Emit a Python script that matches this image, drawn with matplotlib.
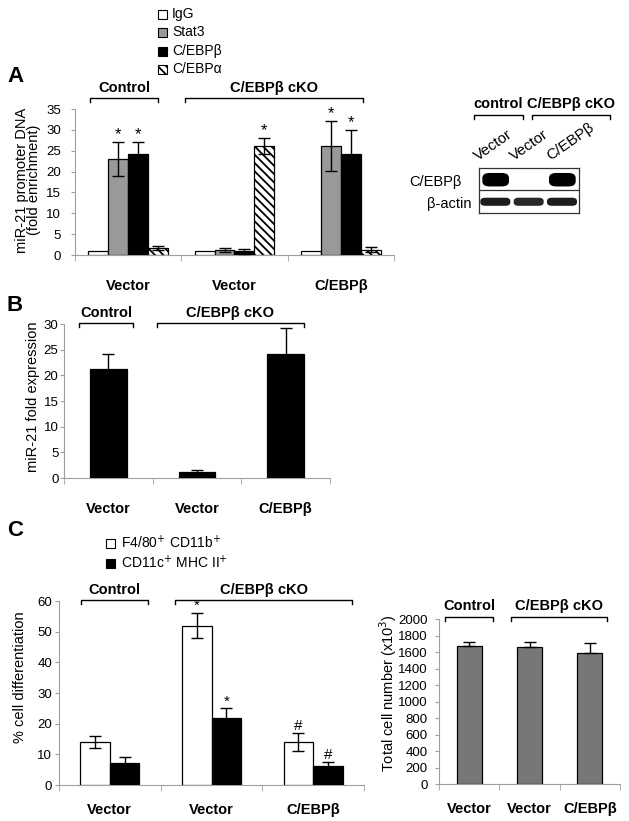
import numpy as np
import matplotlib.pyplot as plt
from matplotlib.lines import Line2D
from matplotlib.patches import FancyBboxPatch, Rectangle

plt.rcParams['font.family'] = ['Liberation Sans', 'DejaVu Sans']
plt.rcParams['hatch.linewidth'] = 1.3

# ---- data ----
groups = ['Vector', 'Vector', 'C/EBPβ']

# panel A (ChIP, fold enrichment)
igg = [1.0, 1.0, 1.0]
stat3 = [23.0, 1.2, 26.1]
stat3_err = [4.0, 0.5, 6.0]
cebpb = [24.2, 0.9, 24.2]
cebpb_err = [2.8, 0.6, 5.8]
cebpa = [1.6, 26.1, 1.2]
cebpa_err = [0.5, 2.0, 0.6]
stars_stat3 = [True, False, True]
stars_cebpb = [True, False, True]
stars_cebpa = [False, True, False]

# western blot band intensities (lanes: control Vector, cKO Vector, cKO C/EBPb)
blot_rows = ['C/EBPβ', 'β-actin']
blot_lanes = ['Vector', 'Vector', 'C/EBPβ']
band_cebpb = [1.0, 0.02, 1.0]
band_actin = [0.95, 0.9, 0.95]

# panel B (miR-21 expression)
mir21 = [21.3, 1.2, 24.2]
mir21_err = [2.8, 0.4, 5.0]

# panel C left (% differentiation)
f480 = [14.0, 52.0, 14.0]
f480_err = [2.0, 4.0, 3.0]
cd11c = [7.3, 22.0, 6.1]
cd11c_err = [1.8, 3.0, 1.3]
marks_f480 = ['', '*', '#']
marks_cd11c = ['', '*', '#']

# panel C right (total cells x10^3)
total_cells = [1676, 1661, 1584]
total_err = [49, 64, 125]

W, H = 629, 821
fig = plt.figure(figsize=(W / 100, H / 100), dpi=100)


def px_axes(x0, y0, x1, y1):
    return fig.add_axes([x0 / W, 1 - y1 / H, (x1 - x0) / W, (y1 - y0) / H])


def ftext(x, y, s, **kw):
    fig.text(x / W, 1 - y / H, s, **kw)


def bracket(x0, x1, y, label, ty, size=10.5):
    fig.add_artist(Line2D([x0 / W, x0 / W, x1 / W, x1 / W],
                          [1 - (y + 4) / H, 1 - y / H, 1 - y / H, 1 - (y + 4) / H],
                          transform=fig.transFigure, color='k', lw=1))
    ftext((x0 + x1) / 2, ty, label, ha='center', va='center',
          fontsize=size, fontweight='bold')


def style(ax, labels, pad=14, ypad=3):
    n = len(labels)
    for s in ['top', 'right']:
        ax.spines[s].set_visible(False)
    for s in ['left', 'bottom']:
        ax.spines[s].set_color('#a0a0a0')
        ax.spines[s].set_linewidth(0.8)
    ax.set_xlim(-0.5, n - 0.5)
    ax.set_xticks(range(n))
    ax.set_xticklabels(labels, fontweight='bold', fontsize=10.5)
    ax.set_xticks(np.arange(-0.5, n), minor=True)
    ax.tick_params(axis='x', which='major', length=0, pad=pad)
    ax.tick_params(axis='x', which='minor', length=4, color='#a0a0a0')
    ax.tick_params(axis='y', labelsize=9.5, length=3, color='#a0a0a0', pad=ypad)


def errs(ax, x, y, e):
    ax.errorbar(x, y, yerr=e, fmt='none', ecolor='k', elinewidth=1,
                capsize=4, capthick=1, zorder=5)


def mark(ax, x, y, s, size=12):
    ax.annotate(s, (x, y), xytext=(0, 0), textcoords='offset points',
                ha='center', va='bottom', fontsize=size, zorder=6)


# ---------------- panel A ----------------
axA = px_axes(75, 109, 394, 255)
x = np.arange(3)
w = 0.187
kw = dict(edgecolor='k', linewidth=0.9, zorder=3)
axA.bar(x - 1.5 * w, igg, w, color='white', **kw)
axA.bar(x - 0.5 * w, stat3, w, color='#999999', **kw)
axA.bar(x + 0.5 * w, cebpb, w, color='black', **kw)
axA.bar(x + 1.5 * w, cebpa, w, color='white', hatch='\\\\\\\\', **kw)
errs(axA, x - 0.5 * w, stat3, stat3_err)
errs(axA, x + 0.5 * w, cebpb, cebpb_err)
errs(axA, x + 1.5 * w, cebpa, cebpa_err)
for i in range(3):
    if stars_stat3[i]:
        mark(axA, x[i] - 0.5 * w, stat3[i] + stat3_err[i], '*')
    if stars_cebpb[i]:
        mark(axA, x[i] + 0.5 * w, cebpb[i] + cebpb_err[i], '*')
    if stars_cebpa[i]:
        mark(axA, x[i] + 1.5 * w, cebpa[i] + cebpa_err[i], '*')
axA.set_ylim(0, 35)
axA.set_yticks(range(0, 36, 5))
style(axA, groups, pad=17, ypad=7)

ftext(7, 76, 'A', fontsize=16, fontweight='bold', va='center')
ftext(28, 180, 'miR-21 promoter DNA\n(fold enrichment)', rotation=90,
      ha='center', va='center', fontsize=10.5, linespacing=0.9)
bracket(90, 158, 98, 'Control', 88)
bracket(185, 363, 98, 'C/EBPβ cKO', 88)

# legend A
leg_items = [('IgG', 'white', None), ('Stat3', '#999999', None),
             ('C/EBPβ', 'black', None), ('C/EBPα', 'white', '\\\\\\\\')]
for i, (lab, col, hat) in enumerate(leg_items):
    yy = 14 + i * 18.3
    fig.add_artist(Rectangle((158 / W, 1 - (yy + 5) / H), 9 / W, 9 / H,
                             transform=fig.transFigure, facecolor=col,
                             edgecolor='k', linewidth=0.8, hatch=hat))
    ftext(172, yy, lab, fontsize=10, va='center')

# ---------------- western blot ----------------
axW = px_axes(479, 168, 579, 213)
axW.set_xlim(0, 3)
axW.set_ylim(0, 2)
for s in axW.spines.values():
    s.set_linewidth(0.9)
    s.set_color('#333333')
axW.set_xticks([])
axW.set_yticks([])
axW.axhline(1, color='#333333', lw=0.9)
for i in range(3):
    if band_cebpb[i] > 0.05:
        axW.add_patch(FancyBboxPatch((i + 0.12, 1.2), 0.76, 0.56,
                                     boxstyle='round,pad=0.02,rounding_size=0.22',
                                     facecolor='black', edgecolor='none',
                                     alpha=band_cebpb[i]))
    axW.add_patch(FancyBboxPatch((i + 0.06, 0.34), 0.86, 0.32,
                                 boxstyle='round,pad=0.02,rounding_size=0.15',
                                 facecolor='#111111', edgecolor='none',
                                 alpha=band_actin[i]))
ftext(462, 182, blot_rows[0], ha='right', va='center', fontsize=10.5)
ftext(471, 204, blot_rows[1], ha='right', va='center', fontsize=10.5)
lane_x = [480, 516, 552]
for xx, lab in zip(lane_x, blot_lanes):
    ftext(xx, 163, lab, rotation=35, rotation_mode='anchor', ha='left',
          va='bottom', fontsize=11)
bracket(474, 523, 115, 'control', 104)
bracket(532, 610, 115, 'C/EBPβ cKO', 104)

# ---------------- panel B ----------------
axB = px_axes(64, 324, 330, 478)
axB.bar(x, mir21, 0.41, color='black', edgecolor='k', linewidth=0.9, zorder=3)
errs(axB, x, mir21, mir21_err)
axB.set_ylim(0, 30)
axB.set_yticks(range(0, 31, 5))
style(axB, groups, pad=17, ypad=1)
ftext(7, 305, 'B', fontsize=16, fontweight='bold', va='center')
ftext(33, 397, 'miR-21 fold expression', rotation=90, ha='center',
      va='center', fontsize=10.5)
bracket(79, 133, 323, 'Control', 313)
bracket(157, 304, 323, 'C/EBPβ cKO', 313)

# ---------------- panel C left ----------------
axC = px_axes(59, 601, 364, 785)
wc = 0.29
axC.bar(x - wc / 2, f480, wc, color='white', **kw)
axC.bar(x + wc / 2, cd11c, wc, color='black', **kw)
errs(axC, x - wc / 2, f480, f480_err)
errs(axC, x + wc / 2, cd11c, cd11c_err)
for i in range(3):
    if marks_f480[i]:
        mark(axC, x[i] - wc / 2, f480[i] + f480_err[i], marks_f480[i], 11)
    if marks_cd11c[i]:
        mark(axC, x[i] + wc / 2, cd11c[i] + cd11c_err[i], marks_cd11c[i], 11)
axC.set_ylim(0, 60)
axC.set_yticks(range(0, 61, 10))
style(axC, groups, pad=13, ypad=2)
ftext(7, 530, 'C', fontsize=16, fontweight='bold', va='center')
ftext(20, 677, '% cell differentiation', rotation=90, ha='center',
      va='center', fontsize=10.5)
bracket(81, 148, 600, 'Control', 590)
bracket(175, 352, 600, 'C/EBPβ cKO', 590)

# legend C
for i, (lab, col) in enumerate([('F4/80$^{+}$ CD11b$^{+}$', 'white'),
                                ('CD11c$^{+}$ MHC II$^{+}$', 'black')]):
    yy = 543 + i * 20
    fig.add_artist(Rectangle((106 / W, 1 - (yy + 4.5) / H), 9 / W, 9 / H,
                             transform=fig.transFigure, facecolor=col,
                             edgecolor='k', linewidth=0.8))
    ftext(121, yy, lab, fontsize=10, va='center')

# ---------------- panel C right ----------------
axD = px_axes(439, 619, 620, 784)
axD.bar(x, total_cells, 0.41, color='#777777', edgecolor='k', linewidth=0.9,
        zorder=3)
axD.errorbar(x, total_cells, yerr=[[0, 0, 0], total_err], fmt='none',
             ecolor='k', elinewidth=1, capsize=4, capthick=1, zorder=5)
axD.set_ylim(0, 2000)
axD.set_yticks(range(0, 2001, 200))
style(axD, groups, pad=13, ypad=5)
ftext(388, 693, 'Total cell number (x10$^{3}$)', rotation=90, ha='center',
      va='center', fontsize=10.5)
bracket(445, 493, 617, 'Control', 606)
bracket(511, 607, 617, 'C/EBPβ cKO', 606)

fig.savefig('out.png', dpi=100)
